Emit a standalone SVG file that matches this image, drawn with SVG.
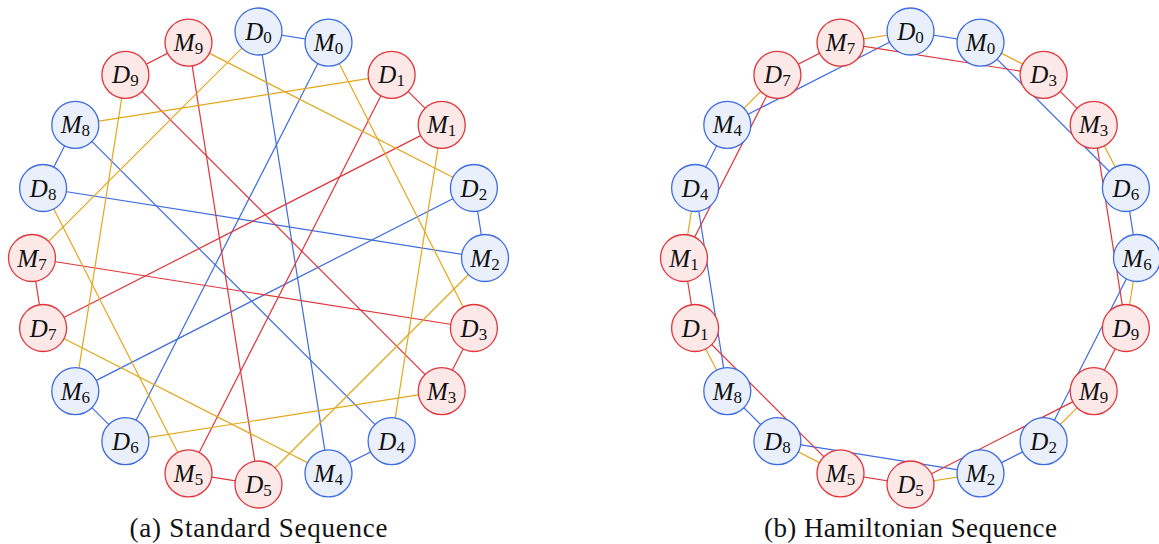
<svg xmlns="http://www.w3.org/2000/svg" width="1159" height="544" viewBox="0 0 1159 544">
<style>
.b{stroke:#3d6be0;stroke-width:1.2;fill:none}
.r{stroke:#e0353a;stroke-width:1.2;fill:none}
.y{stroke:#e3a71c;stroke-width:1.2;fill:none}
.nb circle{fill:#e9effb;stroke:#3d6be0;stroke-width:1.3}
.nr circle{fill:#fde8e8;stroke:#e0353a;stroke-width:1.3}
.lb{font-family:"Liberation Serif","DejaVu Serif",serif;font-size:25px;fill:#111;text-anchor:middle}
.lb .v{font-style:italic}
.lb .s{font-size:17px}
.cap{font-family:"Liberation Serif","DejaVu Serif",serif;font-size:27px;fill:#111;text-anchor:middle}
</style>
<g id="connectors-a">
<line class="b" x1="258.5" y1="31.5" x2="328.5" y2="42.6"/>
<line class="b" x1="258.5" y1="31.5" x2="328.5" y2="473.4"/>
<line class="b" x1="473.9" y1="188" x2="485" y2="258"/>
<line class="b" x1="473.9" y1="188" x2="75.3" y2="391.1"/>
<line class="b" x1="391.6" y1="441.2" x2="328.5" y2="473.4"/>
<line class="b" x1="391.6" y1="441.2" x2="75.3" y2="124.9"/>
<line class="b" x1="125.4" y1="441.2" x2="75.3" y2="391.1"/>
<line class="b" x1="125.4" y1="441.2" x2="328.5" y2="42.6"/>
<line class="b" x1="43.1" y1="188" x2="75.3" y2="124.9"/>
<line class="b" x1="43.1" y1="188" x2="485" y2="258"/>
<line class="r" x1="391.6" y1="74.8" x2="441.7" y2="124.9"/>
<line class="r" x1="391.6" y1="74.8" x2="188.5" y2="473.4"/>
<line class="r" x1="473.9" y1="328" x2="441.7" y2="391.1"/>
<line class="r" x1="473.9" y1="328" x2="32" y2="258"/>
<line class="r" x1="258.5" y1="484.5" x2="188.5" y2="473.4"/>
<line class="r" x1="258.5" y1="484.5" x2="188.5" y2="42.6"/>
<line class="r" x1="43.1" y1="328" x2="32" y2="258"/>
<line class="r" x1="43.1" y1="328" x2="441.7" y2="124.9"/>
<line class="r" x1="125.4" y1="74.8" x2="188.5" y2="42.6"/>
<line class="r" x1="125.4" y1="74.8" x2="441.7" y2="391.1"/>
<line class="y" x1="258.5" y1="31.5" x2="32" y2="258"/>
<line class="y" x1="391.6" y1="74.8" x2="75.3" y2="124.9"/>
<line class="y" x1="473.9" y1="188" x2="188.5" y2="42.6"/>
<line class="y" x1="473.9" y1="328" x2="328.5" y2="42.6"/>
<line class="y" x1="391.6" y1="441.2" x2="441.7" y2="124.9"/>
<line class="y" x1="258.5" y1="484.5" x2="485" y2="258"/>
<line class="y" x1="125.4" y1="441.2" x2="441.7" y2="391.1"/>
<line class="y" x1="43.1" y1="328" x2="328.5" y2="473.4"/>
<line class="y" x1="43.1" y1="188" x2="188.5" y2="473.4"/>
<line class="y" x1="125.4" y1="74.8" x2="75.3" y2="391.1"/>
</g>
<g id="connectors-b">
<line class="b" x1="910.5" y1="31.5" x2="980.5" y2="42.6"/>
<line class="b" x1="910.5" y1="31.5" x2="727.3" y2="124.9"/>
<line class="b" x1="1043.6" y1="441.2" x2="980.5" y2="473.4"/>
<line class="b" x1="1043.6" y1="441.2" x2="1137" y2="258"/>
<line class="b" x1="695.1" y1="188" x2="727.3" y2="124.9"/>
<line class="b" x1="695.1" y1="188" x2="727.3" y2="391.1"/>
<line class="b" x1="1125.9" y1="188" x2="1137" y2="258"/>
<line class="b" x1="1125.9" y1="188" x2="980.5" y2="42.6"/>
<line class="b" x1="777.4" y1="441.2" x2="727.3" y2="391.1"/>
<line class="b" x1="777.4" y1="441.2" x2="980.5" y2="473.4"/>
<line class="r" x1="695.1" y1="328" x2="684" y2="258"/>
<line class="r" x1="695.1" y1="328" x2="840.5" y2="473.4"/>
<line class="r" x1="1043.6" y1="74.8" x2="1093.7" y2="124.9"/>
<line class="r" x1="1043.6" y1="74.8" x2="840.5" y2="42.6"/>
<line class="r" x1="910.5" y1="484.5" x2="840.5" y2="473.4"/>
<line class="r" x1="910.5" y1="484.5" x2="1093.7" y2="391.1"/>
<line class="r" x1="777.4" y1="74.8" x2="840.5" y2="42.6"/>
<line class="r" x1="777.4" y1="74.8" x2="684" y2="258"/>
<line class="r" x1="1125.9" y1="328" x2="1093.7" y2="391.1"/>
<line class="r" x1="1125.9" y1="328" x2="1093.7" y2="124.9"/>
<line class="y" x1="910.5" y1="31.5" x2="840.5" y2="42.6"/>
<line class="y" x1="695.1" y1="328" x2="727.3" y2="391.1"/>
<line class="y" x1="1043.6" y1="441.2" x2="1093.7" y2="391.1"/>
<line class="y" x1="1043.6" y1="74.8" x2="980.5" y2="42.6"/>
<line class="y" x1="695.1" y1="188" x2="684" y2="258"/>
<line class="y" x1="910.5" y1="484.5" x2="980.5" y2="473.4"/>
<line class="y" x1="1125.9" y1="188" x2="1093.7" y2="124.9"/>
<line class="y" x1="777.4" y1="74.8" x2="727.3" y2="124.9"/>
<line class="y" x1="777.4" y1="441.2" x2="840.5" y2="473.4"/>
<line class="y" x1="1125.9" y1="328" x2="1137" y2="258"/>
</g>
<g id="nodes-a">
<g id="a-D0" class="nb"><circle cx="258.5" cy="31.5" r="23.5"/><text class="lb" x="258.5" y="40"><tspan class="v">D</tspan><tspan class="s" dy="3">0</tspan></text></g>
<g id="a-M0" class="nb"><circle cx="328.5" cy="42.6" r="23.5"/><text class="lb" x="328.5" y="51.1"><tspan class="v">M</tspan><tspan class="s" dy="3">0</tspan></text></g>
<g id="a-D1" class="nr"><circle cx="391.6" cy="74.8" r="23.5"/><text class="lb" x="391.6" y="83.3"><tspan class="v">D</tspan><tspan class="s" dy="3">1</tspan></text></g>
<g id="a-M1" class="nr"><circle cx="441.7" cy="124.9" r="23.5"/><text class="lb" x="441.7" y="133.4"><tspan class="v">M</tspan><tspan class="s" dy="3">1</tspan></text></g>
<g id="a-D2" class="nb"><circle cx="473.9" cy="188" r="23.5"/><text class="lb" x="473.9" y="196.5"><tspan class="v">D</tspan><tspan class="s" dy="3">2</tspan></text></g>
<g id="a-M2" class="nb"><circle cx="485" cy="258" r="23.5"/><text class="lb" x="485" y="266.5"><tspan class="v">M</tspan><tspan class="s" dy="3">2</tspan></text></g>
<g id="a-D3" class="nr"><circle cx="473.9" cy="328" r="23.5"/><text class="lb" x="473.9" y="336.5"><tspan class="v">D</tspan><tspan class="s" dy="3">3</tspan></text></g>
<g id="a-M3" class="nr"><circle cx="441.7" cy="391.1" r="23.5"/><text class="lb" x="441.7" y="399.6"><tspan class="v">M</tspan><tspan class="s" dy="3">3</tspan></text></g>
<g id="a-D4" class="nb"><circle cx="391.6" cy="441.2" r="23.5"/><text class="lb" x="391.6" y="449.7"><tspan class="v">D</tspan><tspan class="s" dy="3">4</tspan></text></g>
<g id="a-M4" class="nb"><circle cx="328.5" cy="473.4" r="23.5"/><text class="lb" x="328.5" y="481.9"><tspan class="v">M</tspan><tspan class="s" dy="3">4</tspan></text></g>
<g id="a-D5" class="nr"><circle cx="258.5" cy="484.5" r="23.5"/><text class="lb" x="258.5" y="493"><tspan class="v">D</tspan><tspan class="s" dy="3">5</tspan></text></g>
<g id="a-M5" class="nr"><circle cx="188.5" cy="473.4" r="23.5"/><text class="lb" x="188.5" y="481.9"><tspan class="v">M</tspan><tspan class="s" dy="3">5</tspan></text></g>
<g id="a-D6" class="nb"><circle cx="125.4" cy="441.2" r="23.5"/><text class="lb" x="125.4" y="449.7"><tspan class="v">D</tspan><tspan class="s" dy="3">6</tspan></text></g>
<g id="a-M6" class="nb"><circle cx="75.3" cy="391.1" r="23.5"/><text class="lb" x="75.3" y="399.6"><tspan class="v">M</tspan><tspan class="s" dy="3">6</tspan></text></g>
<g id="a-D7" class="nr"><circle cx="43.1" cy="328" r="23.5"/><text class="lb" x="43.1" y="336.5"><tspan class="v">D</tspan><tspan class="s" dy="3">7</tspan></text></g>
<g id="a-M7" class="nr"><circle cx="32" cy="258" r="23.5"/><text class="lb" x="32" y="266.5"><tspan class="v">M</tspan><tspan class="s" dy="3">7</tspan></text></g>
<g id="a-D8" class="nb"><circle cx="43.1" cy="188" r="23.5"/><text class="lb" x="43.1" y="196.5"><tspan class="v">D</tspan><tspan class="s" dy="3">8</tspan></text></g>
<g id="a-M8" class="nb"><circle cx="75.3" cy="124.9" r="23.5"/><text class="lb" x="75.3" y="133.4"><tspan class="v">M</tspan><tspan class="s" dy="3">8</tspan></text></g>
<g id="a-D9" class="nr"><circle cx="125.4" cy="74.8" r="23.5"/><text class="lb" x="125.4" y="83.3"><tspan class="v">D</tspan><tspan class="s" dy="3">9</tspan></text></g>
<g id="a-M9" class="nr"><circle cx="188.5" cy="42.6" r="23.5"/><text class="lb" x="188.5" y="51.1"><tspan class="v">M</tspan><tspan class="s" dy="3">9</tspan></text></g>
</g>
<g id="nodes-b">
<g id="b-D0" class="nb"><circle cx="910.5" cy="31.5" r="23.5"/><text class="lb" x="910.5" y="40"><tspan class="v">D</tspan><tspan class="s" dy="3">0</tspan></text></g>
<g id="b-M0" class="nb"><circle cx="980.5" cy="42.6" r="23.5"/><text class="lb" x="980.5" y="51.1"><tspan class="v">M</tspan><tspan class="s" dy="3">0</tspan></text></g>
<g id="b-D3" class="nr"><circle cx="1043.6" cy="74.8" r="23.5"/><text class="lb" x="1043.6" y="83.3"><tspan class="v">D</tspan><tspan class="s" dy="3">3</tspan></text></g>
<g id="b-M3" class="nr"><circle cx="1093.7" cy="124.9" r="23.5"/><text class="lb" x="1093.7" y="133.4"><tspan class="v">M</tspan><tspan class="s" dy="3">3</tspan></text></g>
<g id="b-D6" class="nb"><circle cx="1125.9" cy="188" r="23.5"/><text class="lb" x="1125.9" y="196.5"><tspan class="v">D</tspan><tspan class="s" dy="3">6</tspan></text></g>
<g id="b-M6" class="nb"><circle cx="1137" cy="258" r="23.5"/><text class="lb" x="1137" y="266.5"><tspan class="v">M</tspan><tspan class="s" dy="3">6</tspan></text></g>
<g id="b-D9" class="nr"><circle cx="1125.9" cy="328" r="23.5"/><text class="lb" x="1125.9" y="336.5"><tspan class="v">D</tspan><tspan class="s" dy="3">9</tspan></text></g>
<g id="b-M9" class="nr"><circle cx="1093.7" cy="391.1" r="23.5"/><text class="lb" x="1093.7" y="399.6"><tspan class="v">M</tspan><tspan class="s" dy="3">9</tspan></text></g>
<g id="b-D2" class="nb"><circle cx="1043.6" cy="441.2" r="23.5"/><text class="lb" x="1043.6" y="449.7"><tspan class="v">D</tspan><tspan class="s" dy="3">2</tspan></text></g>
<g id="b-M2" class="nb"><circle cx="980.5" cy="473.4" r="23.5"/><text class="lb" x="980.5" y="481.9"><tspan class="v">M</tspan><tspan class="s" dy="3">2</tspan></text></g>
<g id="b-D5" class="nr"><circle cx="910.5" cy="484.5" r="23.5"/><text class="lb" x="910.5" y="493"><tspan class="v">D</tspan><tspan class="s" dy="3">5</tspan></text></g>
<g id="b-M5" class="nr"><circle cx="840.5" cy="473.4" r="23.5"/><text class="lb" x="840.5" y="481.9"><tspan class="v">M</tspan><tspan class="s" dy="3">5</tspan></text></g>
<g id="b-D8" class="nb"><circle cx="777.4" cy="441.2" r="23.5"/><text class="lb" x="777.4" y="449.7"><tspan class="v">D</tspan><tspan class="s" dy="3">8</tspan></text></g>
<g id="b-M8" class="nb"><circle cx="727.3" cy="391.1" r="23.5"/><text class="lb" x="727.3" y="399.6"><tspan class="v">M</tspan><tspan class="s" dy="3">8</tspan></text></g>
<g id="b-D1" class="nr"><circle cx="695.1" cy="328" r="23.5"/><text class="lb" x="695.1" y="336.5"><tspan class="v">D</tspan><tspan class="s" dy="3">1</tspan></text></g>
<g id="b-M1" class="nr"><circle cx="684" cy="258" r="23.5"/><text class="lb" x="684" y="266.5"><tspan class="v">M</tspan><tspan class="s" dy="3">1</tspan></text></g>
<g id="b-D4" class="nb"><circle cx="695.1" cy="188" r="23.5"/><text class="lb" x="695.1" y="196.5"><tspan class="v">D</tspan><tspan class="s" dy="3">4</tspan></text></g>
<g id="b-M4" class="nb"><circle cx="727.3" cy="124.9" r="23.5"/><text class="lb" x="727.3" y="133.4"><tspan class="v">M</tspan><tspan class="s" dy="3">4</tspan></text></g>
<g id="b-D7" class="nr"><circle cx="777.4" cy="74.8" r="23.5"/><text class="lb" x="777.4" y="83.3"><tspan class="v">D</tspan><tspan class="s" dy="3">7</tspan></text></g>
<g id="b-M7" class="nr"><circle cx="840.5" cy="42.6" r="23.5"/><text class="lb" x="840.5" y="51.1"><tspan class="v">M</tspan><tspan class="s" dy="3">7</tspan></text></g>
</g>
<text class="cap" x="258.5" y="537" textLength="258" lengthAdjust="spacing">(a) Standard Sequence</text>
<text class="cap" x="910.5" y="537" textLength="293" lengthAdjust="spacing">(b) Hamiltonian Sequence</text>
</svg>
